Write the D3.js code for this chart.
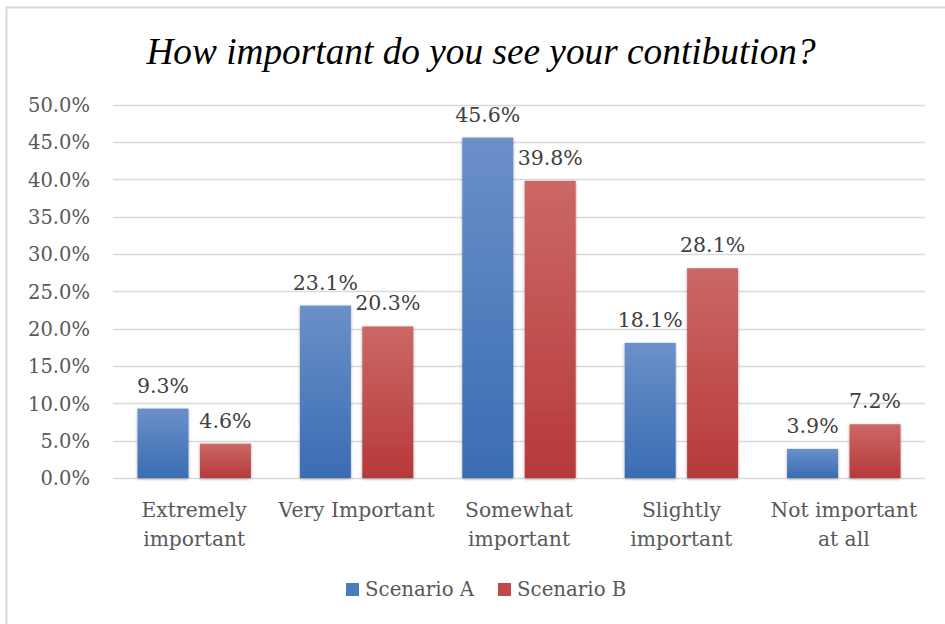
<!DOCTYPE html>
<html>
<head>
<meta charset="utf-8">
<script src="https://cdn.jsdelivr.net/npm/d3@7"></script>
<style>
  html, body { margin: 0; padding: 0; background: #fff; }
  svg { display: block; }
</style>
</head>
<body>
<svg id="chart" width="945" height="624"></svg>
<script>
// Survey responses: share of respondents per importance level
const categories = [
  ["Extremely", "important"],
  ["Very Important"],
  ["Somewhat", "important"],
  ["Slightly", "important"],
  ["Not important", "at all"]
];
const seriesNames = ["Scenario A", "Scenario B"];
const scenarioA = [9.3, 23.1, 45.6, 18.1, 3.9];
const scenarioB = [4.6, 20.3, 39.8, 28.1, 7.2];
const yTicks = [0, 5, 10, 15, 20, 25, 30, 35, 40, 45, 50];
const titleText = "How important do you see your contibution?";

const svg = d3.select("#chart");
const W = 945, H = 624;
const labelFont = "'DejaVu Serif', serif";

// Chart frame
svg.append("rect")
  .attr("x", 6.5).attr("y", 7.5)
  .attr("width", W + 10).attr("height", H + 10)
  .attr("fill", "#fff")
  .attr("stroke", "#d9d9d9").attr("stroke-width", 2);

// Gradients for bar fills
const defs = svg.append("defs");
const grads = [
  { id: "gA", top: "#6b90c9", bottom: "#3a6cb3" },
  { id: "gB", top: "#cb6866", bottom: "#b7393a" }
];
grads.forEach(g => {
  const lg = defs.append("linearGradient").attr("id", g.id)
    .attr("x1", 0).attr("y1", 0).attr("x2", 0).attr("y2", 1);
  lg.append("stop").attr("offset", "0%").attr("stop-color", g.top);
  lg.append("stop").attr("offset", "100%").attr("stop-color", g.bottom);
});
const shadow = defs.append("filter").attr("id", "barShadow")
  .attr("x", "-20%").attr("y", "-10%").attr("width", "140%").attr("height", "120%");
shadow.append("feDropShadow")
  .attr("dx", 0).attr("dy", 1).attr("stdDeviation", 1.6)
  .attr("flood-color", "#000").attr("flood-opacity", 0.35);

// Plot area
const plot = { left: 113, right: 925, top: 104.7, bottom: 478 };

const x0 = d3.scaleBand()
  .domain(d3.range(categories.length))
  .range([plot.left, plot.right])
  .paddingInner(0).paddingOuter(0);

const x1 = d3.scaleBand()
  .domain(seriesNames)
  .range([24.5, x0.bandwidth() - 24.5])
  .paddingInner(0.183);

const y = d3.scaleLinear().domain([0, 50]).range([plot.bottom, plot.top]);

// Gridlines
svg.append("g")
  .selectAll("line")
  .data(yTicks)
  .join("line")
  .attr("x1", plot.left).attr("x2", plot.right)
  .attr("y1", d => Math.round(y(d)) + 0.5)
  .attr("y2", d => Math.round(y(d)) + 0.5)
  .attr("stroke", "#d9d9d9").attr("stroke-width", 1.3);

// Y axis labels
const yAxis = d3.axisLeft(y)
  .tickValues(yTicks)
  .tickFormat(d => d.toFixed(1) + "%")
  .tickSize(0)
  .tickPadding(0);
const gy = svg.append("g")
  .attr("transform", `translate(${plot.left - 23},0)`)
  .call(yAxis);
gy.select(".domain").remove();
gy.selectAll("text")
  .attr("font-family", labelFont)
  .attr("font-size", 19.5)
  .attr("fill", "#595959")
  .attr("dy", "0.35em");

// Bars
const series = [
  { name: seriesNames[0], values: scenarioA, fill: "url(#gA)" },
  { name: seriesNames[1], values: scenarioB, fill: "url(#gB)" }
];

const groups = svg.append("g")
  .selectAll("g")
  .data(series)
  .join("g");

groups.selectAll("rect")
  .data(s => s.values.map((v, i) => ({ v, i, s })))
  .join("rect")
  .attr("x", d => x0(d.i) + x1(d.s.name))
  .attr("y", d => y(d.v))
  .attr("width", x1.bandwidth())
  .attr("height", d => y(0) - y(d.v))
  .attr("fill", d => d.s.fill)
  .attr("filter", "url(#barShadow)");

// Value labels above bars
groups.selectAll("text")
  .data(s => s.values.map((v, i) => ({ v, i, s })))
  .join("text")
  .attr("x", d => x0(d.i) + x1(d.s.name) + x1.bandwidth() / 2)
  .attr("y", d => y(d.v) - 16)
  .attr("text-anchor", "middle")
  .attr("font-family", labelFont)
  .attr("font-size", 20.5)
  .attr("fill", "#404040")
  .text(d => d.v.toFixed(1) + "%");

// Category labels
const catG = svg.append("g");
categories.forEach((lines, i) => {
  const t = catG.append("text")
    .attr("x", x0(i) + x0.bandwidth() / 2)
    .attr("y", 517)
    .attr("text-anchor", "middle")
    .attr("font-family", labelFont)
    .attr("font-size", 20.3)
    .attr("fill", "#595959");
  lines.forEach((ln, j) => {
    t.append("tspan")
      .attr("x", x0(i) + x0.bandwidth() / 2)
      .attr("dy", j === 0 ? 0 : 28.5)
      .text(ln);
  });
});

// Title
svg.append("text")
  .attr("x", 481)
  .attr("y", 64)
  .attr("text-anchor", "middle")
  .attr("font-family", "'Liberation Serif', 'Times New Roman', serif")
  .attr("font-style", "italic")
  .attr("font-size", 37.3)
  .attr("fill", "#000")
  .text(titleText);

// Legend
const legendItems = [
  { name: seriesNames[0], color: "#4a7bbf", x: 346 },
  { name: seriesNames[1], color: "#c0494a", x: 498 }
];
const lg = svg.append("g");
legendItems.forEach(it => {
  lg.append("rect")
    .attr("x", it.x).attr("y", 583)
    .attr("width", 13).attr("height", 13)
    .attr("fill", it.color);
  lg.append("text")
    .attr("x", it.x + 19).attr("y", 596)
    .attr("font-family", labelFont)
    .attr("font-size", 19.8)
    .attr("fill", "#595959")
    .text(it.name);
});
</script>
</body>
</html>
